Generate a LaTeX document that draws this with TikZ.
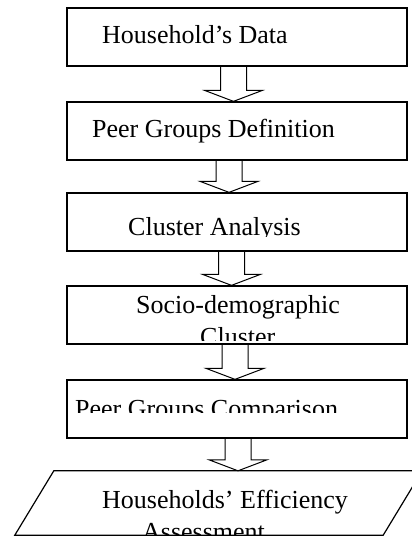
\documentclass[tikz,border=0pt]{standalone}
\usepackage{fontspec}
\setmainfont{Liberation Serif}
\usetikzlibrary{calc}
\tikzset{
  box/.style={draw, line width=1.3pt, minimum width=340pt, minimum height=58pt, inner sep=0pt},
  lbl/.style={anchor=base west, inner sep=0pt, font=\fontsize{26}{32}\selectfont},
  blockarrow/.style={draw, line width=1pt, line join=miter,
    to path={let \p1=(\tikztostart), \p2=(\tikztotarget) in
      ({\x1-13pt},{\y1}) -- ({\x1-13pt},{\y2+11pt}) -- ({\x1-29pt},{\y2+11pt}) --
      ({\x2},{\y2}) -- ({\x1+29pt},{\y2+11pt}) -- ({\x1+13pt},{\y2+11pt}) -- ({\x1+13pt},{\y1})}}
}
\begin{document}
\begin{tikzpicture}[x=1pt,y=-1pt]
\useasboundingbox (0,0) rectangle (412,536);
\clip (0,0) rectangle (412,536);
% boxes
\node[box] (b1) at (237,37) {};
\node[box] (b2) at (237,131) {};
\node[box] (b3) at (237,222) {};
\node[box] (b4) at (237,315) {};
\node[box] (b5) at (237,409) {};
\node[minimum width=368pt, minimum height=64pt, inner sep=0pt] (para) at (218.5,503) {};
\draw[line width=1.2pt, line join=miter] ([xshift=-19.5pt]para.south west) -- ([xshift=19.5pt]para.north west)
  -- ([xshift=19.5pt]para.north east) -- ([xshift=-19.5pt]para.south east) -- cycle;
% texts
\node[lbl] (t1) at (102,43) {Household’s Data};
\node[lbl] (t2) at (92,137) {Peer Groups Definition};
\begin{scope}
  \clip (67,193) rectangle (407,236);
  \node[lbl] (t3) at (128,235) {Cluster Analysis};
\end{scope}
\begin{scope}
  \clip (67,286) rectangle (407,340);
  \node[lbl] (t4) at (136,313) {Socio-demographic};
  \node[lbl] (t4b) at (200,345) {Cluster};
\end{scope}
\begin{scope}
  \clip (67,380) rectangle (407,412);
  \node[lbl] (t5) at (75,417) {Peer Groups Comparison};
\end{scope}
\begin{scope}
  \clip (0,471) rectangle (412,535);
  \node[lbl] (t6) at (102,508) {Households’ Efficiency};
  \node[lbl] (t6b) at (142,540) {Assessment};
\end{scope}
% arrows
\path ([xshift=-3.5pt]b1.south) edge[blockarrow] ([xshift=-3.5pt]b2.north);
\path ([xshift=-8pt]b2.south) edge[blockarrow] ([xshift=-8pt]b3.north);
\path ([xshift=-5.5pt]b3.south) edge[blockarrow] ([xshift=-5.5pt]b4.north);
\path ([xshift=-2pt]b4.south) edge[blockarrow] ([xshift=-2pt]b5.north);
\path ([xshift=1pt]b5.south) edge[blockarrow] ([xshift=19.5pt]para.north);
\end{tikzpicture}
\end{document}
